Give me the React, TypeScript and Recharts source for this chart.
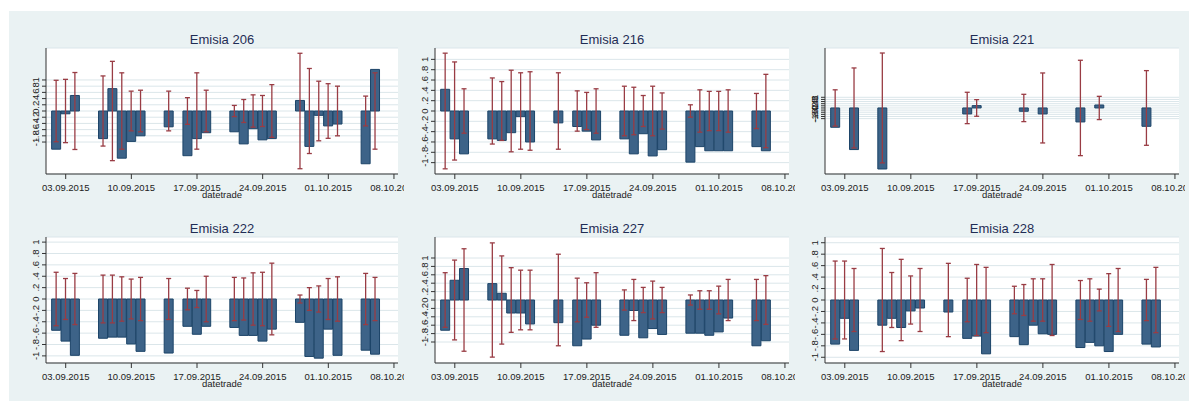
import { Bar, CartesianGrid, ComposedChart, ErrorBar, XAxis, YAxis } from 'recharts';

// trading days shown in every panel
const tradeDates = [
  '02.09.2015', '03.09.2015', '04.09.2015', '07.09.2015', '08.09.2015', '09.09.2015',
  '10.09.2015', '11.09.2015', '14.09.2015', '16.09.2015', '17.09.2015', '18.09.2015',
  '21.09.2015', '22.09.2015', '23.09.2015', '24.09.2015', '25.09.2015', '28.09.2015',
  '29.09.2015', '30.09.2015', '01.10.2015', '02.10.2015', '05.10.2015', '06.10.2015',
];

const xTickDates = ['03.09.2015', '10.09.2015', '17.09.2015', '24.09.2015', '01.10.2015', '08.10.2015'];
const yTicks = [-1, -0.8, -0.6, -0.4, -0.2, 0, 0.2, 0.4, 0.6, 0.8, 1];

// bar value and half-width of the band (drawn from -c to +c)
const v206 = [-1.23, -0.09, 0.5, -0.89, 0.72, -1.52, -0.98, -0.8, -0.51, -1.44, -0.89, -0.7, -0.67, -1.06, -0.57, -0.93, -0.89, 0.34, -1.14, -0.14, -0.48, -0.42, -1.7, 1.34];
const c206 = [0.99, 1.02, 1.24, 1.13, 1.6, 1.23, 0.64, 0.67, 0.64, 0.43, 1.23, 0.67, 0.18, 0.37, 0.52, 0.5, 0.85, 1.86, 1.37, 0.96, 0.88, 0.8, 0.48, 1.23];

const v216 = [0.42, -0.54, -0.83, -0.54, -0.57, -0.42, -0.11, -0.6, -0.23, -0.3, -0.39, -0.56, -0.54, -0.83, -0.44, -0.87, -0.75, -0.99, -0.69, -0.77, -0.77, -0.77, -0.69, -0.77];
const c216 = [1.12, 0.95, 0.43, 0.64, 0.57, 0.79, 0.74, 0.76, 0.74, 0.39, 0.36, 0.43, 0.48, 0.46, 0.3, 0.48, 0.35, 0.12, 0.41, 0.38, 0.38, 0.41, 0.34, 0.71];

const v221 = [-1.81, null, -3.9, -5.72, null, 0, null, null, null, -0.56, 0.22, null, null, -0.31, null, -0.56, null, -1.31, null, 0.28, null, null, -1.72, null];
const c221 = [1.7, null, 3.75, 5.15, null, 1.03, null, null, null, 1.47, 0.78, null, null, 1.28, null, 3.28, null, 4.47, null, 1.09, null, null, 3.5, null];

const v222 = [-0.55, -0.74, -0.99, -0.69, -0.67, -0.67, -0.79, -0.92, -0.95, -0.48, -0.62, -0.48, -0.5, -0.64, -0.64, -0.74, -0.53, -0.41, -1.01, -1.04, -0.53, -0.99, -0.9, -0.97];
const c222 = [0.47, 0.36, 0.45, 0.42, 0.42, 0.39, 0.35, 0.38, 0.36, 0.19, 0.15, 0.4, 0.38, 0.37, 0.46, 0.47, 0.63, 0.07, 0.2, 0.23, 0.36, 0.39, 0.45, 0.38];

const v227 = [-0.72, 0.47, 0.75, 0.39, 0.16, -0.31, -0.31, -0.57, -0.54, -1.09, -0.93, -0.6, -0.84, -0.25, -0.9, -0.68, -0.82, -0.79, -0.79, -0.84, -0.76, -0.43, -1.09, -0.97];
const c227 = [0.65, 0.95, 1.22, 1.36, 1.05, 0.77, 0.71, 0.71, 1.09, 0.52, 0.41, 0.65, 0.24, 0.49, 0.3, 0.45, 0.3, 0.12, 0.22, 0.22, 0.33, 0.49, 0.49, 0.58];

const v228 = [-0.77, -0.32, -0.88, -0.44, -0.32, -0.48, -0.19, -0.14, -0.21, -0.67, -0.63, -0.94, -0.64, -0.78, -0.44, -0.59, -0.6, -0.83, -0.74, -0.8, -0.9, -0.6, -0.77, -0.82];
const c228 = [0.68, 0.68, 0.55, 0.9, 0.48, 0.71, 0.42, 0.55, 0.64, 0.38, 0.62, 0.57, 0.24, 0.27, 0.37, 0.37, 0.62, 0.34, 0.37, 0.19, 0.46, 0.55, 0.36, 0.57];

const FONT = '"Liberation Sans", Arial, sans-serif';
const NAVY = '#3d6388';
const NAVY_LINE = '#1c4468';
const MAROON = '#993c44';
const BG = '#eaf2f3';

const COL_LEFT = [46, 435, 825];
const COL_W = [352, 354, 354];
const ROW_TOP = [48, 237];
const PLOT_H = 126;

const panels = [
  { name: 'Emisia 206', v: v206, c: c206, domain: [-2.03, 2.03], col: 0, row: 0 },
  { name: 'Emisia 216', v: v216, c: c216, domain: [-1.22, 1.22], col: 1, row: 0 },
  { name: 'Emisia 221', v: v221, c: c221, domain: [-6.19, 5.62], col: 2, row: 0 },
  { name: 'Emisia 222', v: v222, c: c222, domain: [-1.125, 1.09], col: 0, row: 1 },
  { name: 'Emisia 227', v: v227, c: c227, domain: [-1.5, 1.5], col: 1, row: 1 },
  { name: 'Emisia 228', v: v228, c: c228, domain: [-1.1, 1.1], col: 2, row: 1 },
];

// days since 01.09.2015
const dayNum = (s: string) => {
  const [d, m, y] = s.split('.').map(Number);
  return (Date.UTC(y, m - 1, d) - Date.UTC(2015, 8, 1)) / 86400000;
};

const xTicks = xTickDates.map(dayNum);
const tickLabel = (n: number) => xTickDates[xTicks.indexOf(n)] ?? '';

const fmtY = (v: number) => {
  if (Math.abs(v) < 1e-9) return '0';
  const a = Math.abs(v);
  const s = a === 1 ? '1' : String(Math.round(a * 10) / 10).replace(/^0/, '');
  return (v < 0 ? '-' : '') + s;
};

const YTick = (props: any) => {
  const { x, y, payload } = props;
  const tx = x - 1;
  return (
    <text
      x={tx}
      y={y}
      transform={`rotate(-90 ${tx} ${y})`}
      textAnchor="middle"
      fontSize={9.5}
      fontFamily={FONT}
      fill="#222"
    >
      {fmtY(payload.value)}
    </text>
  );
};

function Panel({ p }: { p: (typeof panels)[number] }) {
  const data = tradeDates
    .map((dt, i) => ({ d: dayNum(dt), v: p.v[i], c: p.c[i] }))
    .filter((r) => r.c != null)
    .map((r) => ({ d: r.d, v: r.v as number, e: [(r.v as number) + (r.c as number), (r.c as number) - (r.v as number)] }));

  const left = COL_LEFT[p.col] - 46;
  const top = ROW_TOP[p.row] - 10;
  const width = COL_W[p.col] + 46 + 6;
  const height = PLOT_H + 10 + 30;

  return (
    <div style={{ position: 'absolute', left, top }}>
      <ComposedChart width={width} height={height} data={data} margin={{ top: 10, right: 6, bottom: 0, left: 0 }}>
        <CartesianGrid vertical={false} stroke="#dbe6ea" fill="#ffffff" />
        <XAxis
          type="number"
          dataKey="d"
          domain={[-0.1, 37.43]}
          allowDataOverflow
          ticks={xTicks}
          tickFormatter={tickLabel}
          interval={0}
          height={30}
          tickSize={5}
          tickMargin={5}
          stroke="#333"
          tick={{ fontSize: 9.5, fontFamily: FONT, fill: '#222' }}
        />
        <YAxis
          type="number"
          domain={p.domain}
          allowDataOverflow
          ticks={yTicks}
          interval={0}
          width={46}
          tickSize={4}
          tickMargin={2}
          stroke="#333"
          tick={<YTick />}
        />
        <Bar dataKey="v" fill={NAVY} stroke={NAVY_LINE} strokeWidth={1} barSize={9} isAnimationActive={false}>
          <ErrorBar dataKey="e" direction="y" width={2.5} stroke={MAROON} strokeWidth={1.3} />
        </Bar>
      </ComposedChart>
    </div>
  );
}

export default function App() {
  return (
    <div style={{ position: 'absolute', left: 0, top: 0, width: 1189, height: 401, background: '#fff', overflow: 'hidden' }}>
      <svg width={1189} height={401} style={{ position: 'absolute', left: 0, top: 0 }}>
        <rect x={9} y={11} width={1180} height={390} fill={BG} />
        {panels.map((p) => {
          const cx = COL_LEFT[p.col] + COL_W[p.col] / 2;
          const t = ROW_TOP[p.row];
          return (
            <g key={p.name}>
              <text x={cx} y={t - 4} textAnchor="middle" fontSize={13} fontFamily={FONT} fill="#1f2d55">
                {p.name}
              </text>
              <text x={cx} y={t + PLOT_H + 24} textAnchor="middle" fontSize={9.5} fontFamily={FONT} fill="#222">
                datetrade
              </text>
            </g>
          );
        })}
      </svg>
      {panels.map((p) => (
        <Panel key={p.name} p={p} />
      ))}
    </div>
  );
}
